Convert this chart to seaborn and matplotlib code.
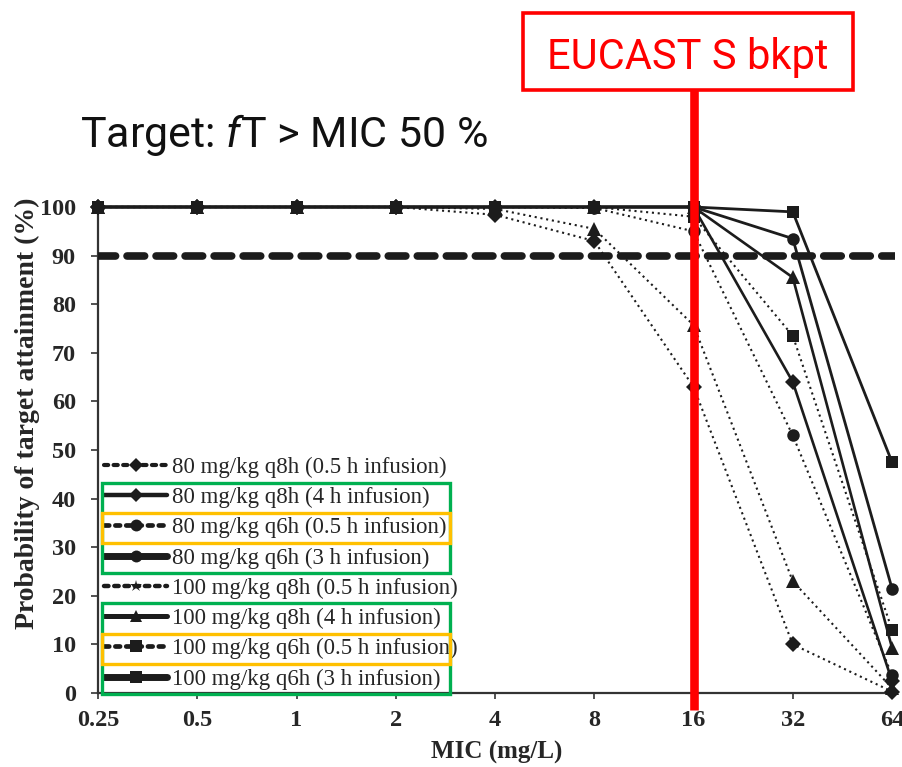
import numpy as np
import pandas as pd
import matplotlib
matplotlib.use("Agg")
import matplotlib.pyplot as plt
import seaborn as sns
from matplotlib.lines import Line2D
from matplotlib.patches import Rectangle
from matplotlib.ticker import NullLocator
from matplotlib.transforms import blended_transform_factory

# MIC grid (mg/L) and tick labels
mic = [0.25, 0.5, 1, 2, 4, 8, 16, 32, 64]
mic_labels = ["0.25", "0.5", "1", "2", "4", "8", "16", "32", "64"]

regimens = [
    "80 mg/kg q8h (0.5 h infusion)",
    "80 mg/kg q8h (4 h infusion)",
    "80 mg/kg q6h (0.5 h infusion)",
    "80 mg/kg q6h (3 h infusion)",
    "100 mg/kg q8h (0.5 h infusion)",
    "100 mg/kg q8h (4 h infusion)",
    "100 mg/kg q6h (0.5 h infusion)",
    "100 mg/kg q6h (3 h infusion)",
]

# Probability of target attainment (%) per regimen
pta_80_q8h_05 = [100, 100, 100, 100, 98.4, 93.0, 63.0, 10.0, 0.3]
pta_80_q8h_4 = [100, 100, 100, 100, 100, 100, 100, 64.0, 2.5]
pta_80_q6h_05 = [100, 100, 100, 100, 100, 99.8, 95.0, 53.0, 3.7]
pta_80_q6h_3 = [100, 100, 100, 100, 100, 100, 100, 93.5, 21.5]
pta_100_q8h_05 = [100, 100, 100, 100, 99.6, 95.5, 75.7, 23.0, 1.0]
pta_100_q8h_4 = [100, 100, 100, 100, 100, 100, 100, 85.5, 9.3]
pta_100_q6h_05 = [100, 100, 100, 100, 100, 100, 98.0, 73.5, 13.0]
pta_100_q6h_3 = [100, 100, 100, 100, 100, 100, 100, 99.0, 47.5]

pta_series = [pta_80_q8h_05, pta_80_q8h_4, pta_80_q6h_05, pta_80_q6h_3,
              pta_100_q8h_05, pta_100_q8h_4, pta_100_q6h_05, pta_100_q6h_3]

target_pta = 90
breakpoint_mic = 16

df = pd.concat(
    [pd.DataFrame({"mic": mic, "pta": vals, "regimen": name})
     for name, vals in zip(regimens, pta_series)],
    ignore_index=True,
)

sns.set_theme(style="ticks")
plt.rcParams["font.family"] = ["Liberation Serif", "DejaVu Serif"]
plt.rcParams["mathtext.fontset"] = "custom"
plt.rcParams["mathtext.rm"] = "Roboto"
plt.rcParams["mathtext.it"] = "Roboto:italic"

INK = "#1c1c1c"
DOT = (0, (1, 1.8))
SANS = ["Roboto", "DejaVu Sans"]

# line style, marker, line width, marker size, legend marker, legend line width
styles = [
    (DOT, "D", 1.5, 8.0, "D", 3.0),
    ("-", "D", 1.9, 8.0, "D", 3.2),
    (DOT, "o", 1.5, 9.0, "o", 3.4),
    ("-", "o", 2.0, 9.0, "o", 5.0),
    (DOT, "^", 1.5, 9.5, "*", 3.2),
    ("-", "^", 1.9, 9.5, "^", 3.6),
    (DOT, "s", 1.5, 8.5, "s", 3.4),
    ("-", "s", 2.0, 8.5, "s", 5.0),
]

fig = plt.figure(figsize=(9.03, 7.67), dpi=100)
ax = fig.add_axes([98 / 903, 74 / 767, 797 / 903, 486 / 767])
ax.set_xscale("log", base=2)

for name, (ls, mk, lw, ms, _, _) in zip(regimens, styles):
    sns.lineplot(
        data=df[df["regimen"] == name], x="mic", y="pta", ax=ax,
        estimator=None, color=INK, linestyle=ls, linewidth=lw,
        marker=mk, markersize=ms, markeredgewidth=0, clip_on=False,
        legend=False, zorder=3,
    )

# target attainment threshold
ax.axhline(target_pta, color=INK, linewidth=5.5, dashes=(2.3, 1.5),
           dash_capstyle="round", zorder=4)

ax.set_xlim(0.25, 64 * 2 ** 0.03)
ax.set_ylim(0, 100)
ax.set_xticks(mic)
ax.set_xticklabels(mic_labels)
ax.xaxis.set_minor_locator(NullLocator())
ax.set_yticks(range(0, 101, 10))

for side in ("top", "right"):
    ax.spines[side].set_visible(False)
for side in ("left", "bottom"):
    ax.spines[side].set_linewidth(1.6)
    ax.spines[side].set_color("#333333")

ax.tick_params(axis="x", direction="out", length=4.5, width=1.2, pad=8,
               colors="#333333", labelcolor="#262626")
ax.tick_params(axis="y", direction="out", length=5, width=1.2, pad=11,
               colors="#333333", labelcolor="#262626")
for lab in ax.get_xticklabels() + ax.get_yticklabels():
    lab.set_fontsize(17.5)
    lab.set_fontweight("bold")

ax.set_xlabel("MIC (mg/L)", fontsize=18, fontweight="bold", color="#262626")
ax.xaxis.set_label_coords(0.5, -0.098)
ax.set_ylabel("Probability of target attainment (%)", fontsize=20,
              fontweight="bold", color="#262626")
ax.yaxis.set_label_coords(-0.088, 0.576)
ax.yaxis.label.set_verticalalignment("center")

handles = [
    Line2D([], [], color=INK, linestyle=ls if ls == "-" else (0, (1, 1.3)),
           linewidth=hlw, marker=hmk, markersize=ms * 0.95,
           markeredgewidth=0, dash_capstyle="round")
    for (ls, mk, lw, ms, hmk, hlw) in styles
]
leg = ax.legend(
    handles, regimens, loc="upper left", bbox_to_anchor=(0.008, 0.486),
    frameon=False, fontsize=16.5, handlelength=2.75, handletextpad=0.2,
    labelspacing=0.395, borderpad=0, borderaxespad=0, numpoints=1,
)
for t in leg.get_texts():
    t.set_color("#262626")

# highlight boxes around selected regimens, sized from the drawn legend rows
fig.canvas.draw()
renderer = fig.canvas.get_renderer()
centers = []
for t in leg.get_texts():
    bb = t.get_window_extent(renderer)
    centers.append((bb.y0 + bb.y1) / 2)
step = (centers[0] - centers[-1]) / (len(centers) - 1)
W, H = fig.bbox.width, fig.bbox.height
x_left = 101.5 / W
x_right = 449.5 / W


def row_box(first, last, color):
    top = centers[first] + step / 2
    bottom = centers[last] - step / 2
    fig.add_artist(Rectangle((x_left, bottom / H), x_right - x_left,
                             (top - bottom) / H, transform=fig.transFigure,
                             fill=False, edgecolor=color, linewidth=2.4,
                             zorder=6))


row_box(1, 3, "#00B050")
row_box(5, 7, "#00B050")
row_box(2, 2, "#FFC000")
row_box(6, 6, "#FFC000")

# breakpoint marker and callout
bt = blended_transform_factory(ax.transData, fig.transFigure)
ax.plot([breakpoint_mic, breakpoint_mic], [57 / 767, 677 / 767],
        transform=bt, color="#FF0000", linewidth=6.2, solid_capstyle="butt",
        clip_on=False, zorder=10)
fig.add_artist(Rectangle((523 / 903, 677 / 767), 330 / 903, 77 / 767,
                         transform=fig.transFigure, fill=False,
                         edgecolor="#FF0000", linewidth=2.6, zorder=10))
fig.text(688 / 903, 698 / 767, "EUCAST S bkpt", color="#FF0000",
         fontsize=30, family=SANS, ha="center", va="baseline")

fig.text(80 / 903, 620 / 767, r"Target: $\mathit{f}$T > MIC 50 %",
         color="#111111", fontsize=31, family=SANS,
         ha="left", va="baseline")

fig.savefig("out.png", dpi=100)
